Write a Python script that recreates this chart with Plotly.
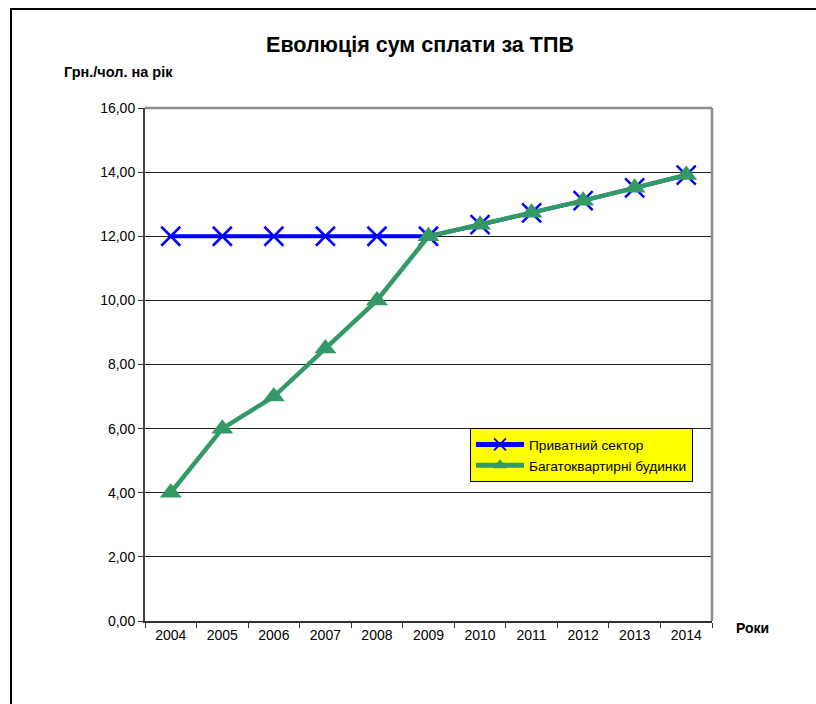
import plotly.graph_objects as go

# Years on the category axis
years = ["2004", "2005", "2006", "2007", "2008", "2009",
         "2010", "2011", "2012", "2013", "2014"]

# Payment amounts, UAH per person per year
private_sector = [12.00, 12.00, 12.00, 12.00, 12.00, 12.00,
                  12.36, 12.73, 13.11, 13.51, 13.91]
apartment_blocks = [4.00, 6.00, 7.00, 8.50, 10.00, 12.00,
                    12.36, 12.73, 13.11, 13.51, 13.91]

y_ticks = [0, 2, 4, 6, 8, 10, 12, 14, 16]

FONT = "Liberation Sans, Arial, sans-serif"

fig = go.Figure()

fig.add_trace(go.Scatter(
    x=years, y=private_sector, name="Приватний сектор",
    mode="lines+markers",
    line=dict(color="#0000FF", width=4),
    marker=dict(symbol="x-thin", size=19, color="#0000FF",
                line=dict(color="#0000FF", width=2.5)),
))
fig.add_trace(go.Scatter(
    x=years, y=apartment_blocks, name="Багатоквартирні будинки",
    mode="lines+markers",
    line=dict(color="#339966", width=4.5),
    marker=dict(symbol="triangle-up", size=19, color="#339966",
                line=dict(width=0)),
))

L, R, T, B = 145, 104, 108, 83
W, H = 816, 704
pw, ph = W - L - R, H - T - B


def px_x(p):
    return (p - L) / pw


def px_y(p):
    return (H - B - p) / ph


fig.update_layout(
    width=W, height=H,
    margin=dict(l=L, r=R, t=T, b=B, pad=0),
    paper_bgcolor="white", plot_bgcolor="white",
    separators=",.",
    font=dict(family=FONT, size=14, color="black"),
    title=dict(text="<b>Еволюція сум сплати за ТПВ</b>",
               x=420 / W, xanchor="center",
               y=1 - 44 / H, yanchor="middle",
               font=dict(size=21.5, family=FONT, color="black")),
    showlegend=True,
    legend=dict(
        x=px_x(470), xanchor="left",
        y=px_y(428), yanchor="top",
        bgcolor="#FFFF00", bordercolor="black", borderwidth=1,
        font=dict(size=13.7, family=FONT, color="black"),
        itemsizing="constant", itemwidth=48,
        tracegroupgap=0,
    ),
    xaxis=dict(
        type="category", range=[-0.5, 10.5],
        tickson="boundaries", ticks="outside", ticklen=5,
        tickwidth=1, tickcolor="#333",
        showline=True, linecolor="#333", linewidth=2,
        showgrid=False, zeroline=False,
        tickfont=dict(size=14, family=FONT, color="black"),
        fixedrange=True,
    ),
    yaxis=dict(
        range=[0, 16], tickvals=y_ticks, tickformat=".2f",
        ticks="outside", ticklen=5, tickwidth=1, tickcolor="#333",
        showline=True, linecolor="#444", linewidth=2,
        showgrid=True, gridcolor="#222", gridwidth=1,
        zeroline=False,
        tickfont=dict(size=14, family=FONT, color="black"),
        fixedrange=True,
    ),
)

# Gray frame on the top and right side of the plot area
fig.add_shape(type="line", xref="paper", yref="paper",
              x0=0, x1=1, y0=1, y1=1,
              line=dict(color="#8c8c8c", width=2.5))
fig.add_shape(type="line", xref="paper", yref="paper",
              x0=1, x1=1, y0=0, y1=1,
              line=dict(color="#8c8c8c", width=2.5))

# Outer chart border (top and left edges)
fig.add_shape(type="line", xref="paper", yref="paper",
              x0=px_x(10), x1=px_x(830), y0=px_y(9), y1=px_y(9),
              line=dict(color="black", width=2))
fig.add_shape(type="line", xref="paper", yref="paper",
              x0=px_x(11), x1=px_x(11), y0=px_y(9), y1=px_y(720),
              line=dict(color="black", width=2))

# Axis titles
fig.add_annotation(text="<b>Грн./чол. на рік</b>", xref="paper", yref="paper",
                   x=px_x(62), xanchor="left", y=px_y(72), yanchor="middle",
                   showarrow=False, font=dict(size=14.5, family=FONT))
fig.add_annotation(text="<b>Роки</b>", xref="paper", yref="paper",
                   x=px_x(752), xanchor="center", y=px_y(628), yanchor="middle",
                   showarrow=False, font=dict(size=14, family=FONT))

fig.write_html("out.html")
